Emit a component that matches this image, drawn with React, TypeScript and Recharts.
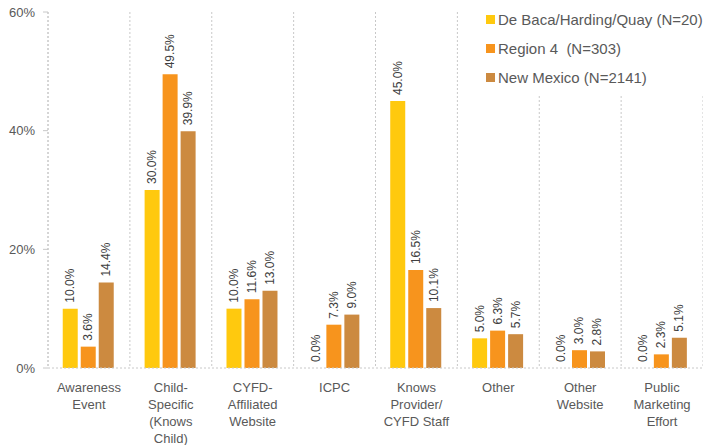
import { BarChart, Bar, XAxis, YAxis, CartesianGrid, LabelList } from 'recharts';

const categories = [
  'Awareness\nEvent',
  'Child-\nSpecific\n(Knows\nChild)',
  'CYFD-\nAffiliated\nWebsite',
  'ICPC',
  'Knows\nProvider/\nCYFD Staff',
  'Other',
  'Other\nWebsite',
  'Public\nMarketing\nEffort',
];
const deBaca = [10.0, 30.0, 10.0, 0.0, 45.0, 5.0, 0.0, 0.0];
const region4 = [3.6, 49.5, 11.6, 7.3, 16.5, 6.3, 3.0, 2.3];
const newMexico = [14.4, 39.9, 13.0, 9.0, 10.1, 5.7, 2.8, 5.1];
const yTicks = [0, 20, 40, 60];

const seriesInfo = [
  { key: 'deBaca', name: 'De Baca/Harding/Quay (N=20)', color: '#FFC90E' },
  { key: 'region4', name: 'Region 4  (N=303)', color: '#F7941D' },
  { key: 'newMexico', name: 'New Mexico (N=2141)', color: '#CC8A40' },
];

const data = categories.map((c, i) => ({
  name: c,
  deBaca: deBaca[i],
  region4: region4[i],
  newMexico: newMexico[i],
}));

const FONT = '"Liberation Sans", Arial, sans-serif';
const TEXT = '#595959';

function CategoryTick({ x, y, payload }: any) {
  const lines = String(payload.value).split('\n');
  return (
    <text x={x} y={y + 12} textAnchor="middle" fill={TEXT} fontSize={13} fontFamily={FONT}>
      {lines.map((l, i) => (
        <tspan key={i} x={x} dy={i === 0 ? 4 : 17}>
          {l}
        </tspan>
      ))}
    </text>
  );
}

function ValueLabel({ x, y, width, height, value }: any) {
  const cx = x + width / 2;
  const ty = Math.min(y, y + height) - 6;
  return (
    <text
      x={cx}
      y={ty}
      transform={`rotate(-90 ${cx} ${ty})`}
      textAnchor="start"
      dominantBaseline="central"
      fill="#404040"
      fontSize={12}
      fontFamily={FONT}
    >
      {Number(value).toFixed(1)}%
    </text>
  );
}

// zero bars still need a rect so their "0.0%" label is drawn
const tinyForZero = (value: any) => (Number(value) === 0 ? 0.01 : 0);

function LegendBox() {
  return (
    <div style={{ position: 'absolute', left: 482, top: 0, width: 221, background: '#fff', padding: '5px 0 4px 4px', boxSizing: 'border-box' }}>
      {seriesInfo.map((s) => (
        <div
          key={s.key}
          style={{ display: 'flex', alignItems: 'center', height: 29, fontFamily: FONT, fontSize: 15, color: TEXT, whiteSpace: 'pre' }}
        >
          <span style={{ display: 'inline-block', flexShrink: 0, width: 9, height: 9, background: s.color, marginRight: 3 }} />
          {s.name}
        </div>
      ))}
    </div>
  );
}

export default function App() {
  return (
    <div style={{ position: 'absolute', left: 0, top: 0, width: 703, height: 445, background: '#fff' }}>
      <BarChart
        width={703}
        height={445}
        data={data}
        margin={{ top: 12, right: 0, bottom: 0, left: 0 }}
        barCategoryGap="18%"
        barGap={3}
      >
        <CartesianGrid
          horizontal={false}
          stroke="#c8c8c8"
          strokeDasharray="2 2"
          verticalCoordinatesGenerator={({ offset }: any) =>
            Array.from({ length: categories.length + 1 }, (_, i) => offset.left + (i * offset.width) / categories.length)
          }
        />
        <XAxis
          dataKey="name"
          interval={0}
          height={77}
          tickLine={false}
          axisLine={{ stroke: '#c8c8c8', strokeDasharray: '2 2' }}
          tick={<CategoryTick />}
        />
        <YAxis
          width={48}
          domain={[0, 60]}
          ticks={yTicks}
          tickFormatter={(v) => `${v}%`}
          tickSize={5}
          tickMargin={8}
          tickLine={{ stroke: '#c8c8c8' }}
          axisLine={{ stroke: '#c8c8c8', strokeDasharray: '2 2' }}
          tick={{ fill: TEXT, fontSize: 13, fontFamily: FONT }}
        />
        {seriesInfo.map((s) => (
          <Bar key={s.key} dataKey={s.key} name={s.name} fill={s.color} minPointSize={tinyForZero} isAnimationActive={false}>
            <LabelList dataKey={s.key} content={<ValueLabel />} />
          </Bar>
        ))}
      </BarChart>
      <LegendBox />
    </div>
  );
}
